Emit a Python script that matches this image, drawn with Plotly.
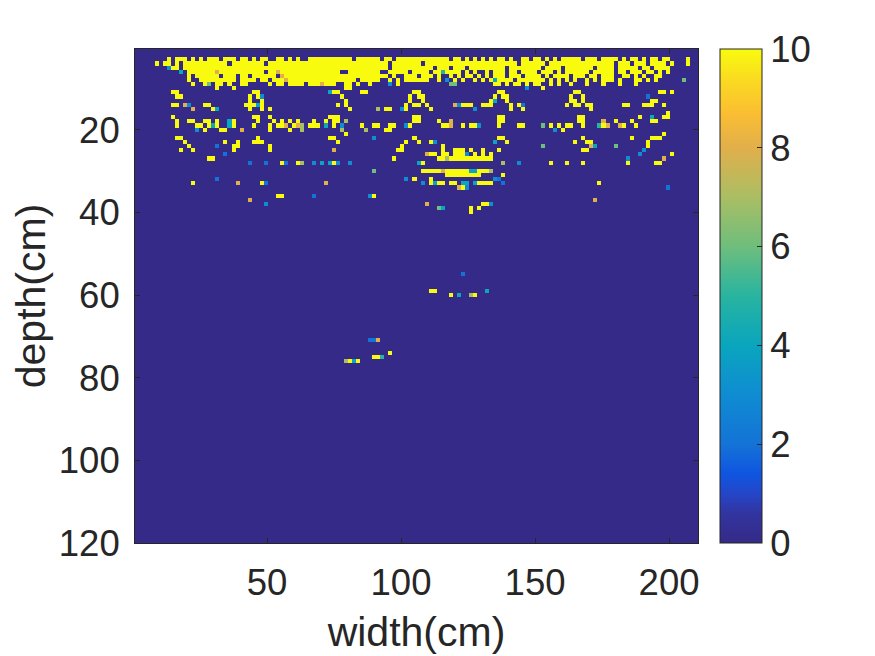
import numpy as np
import plotly.graph_objects as go

# one string per depth, 14 groups of 10 columns: . = 0, digit = value, # = 10
band_depths = [3, 4, 5, 6, 7, 8, 9, 10]
band_rows = [
    "........#. ###.#.#.## #.###.##.# .##..##.#. #..####### ####.##### #.##.##### ########.# #.#.#.#.#. ##.#..##.# #.#.#.#### #.###.#### .#.##.#.## .##....#..",
    ".....#.##. #.######## ###.###### ##.####### ########## ########## ###.###### #.######## ########## #####.#### ##.####### #########. ###.###.## ##.#...#..",
    "........3# #.######## ########## ########## ########## ########## ###.###### ####.###.# ##.####### ##.####### #.####.### ####.####. #####.##.# ###.......",
    ".......... .4.####### 8######### ##.##8#### ########## #..####### #..#####.# ###.##5### #.#.#..#.# ##.##.#### .###.#.### ###.#####. ##.###.##. #.#.......",
    ".......... ...#.##### #.###.##.# #####.8### ########## ########## ###.#..### .###.#..#. #.##.#.#.# ##.###.### #.#.####.# ##.##.###. .##.#.#..# #.........",
    ".......... ...#..#### #####.#### .##.###8## ########## #####.#### #..#.#.### ###..#.3.# .#..#.#.#4 ####.##### ##.#.#.#.# ..#.#.###. #...##.#.# ......6...",
    ".......... ....#..#6. ##.#..##.. ...#.##.## ##.###8### ..##.#..#. ...3.#.... ........66 .........# #.#.##.#.# #..#.#..#. ..#...#... #...#..... ..........",
    ".......... .......... #...#..... .......... .......... ..##...... .......... .......... .......... .......3.. .#........ .......... .......... ..........",
]

# scattered returns below the band: col, col-col or col:value
lower_depths = [11, 12, 13, 14, 15, 16, 17, 18, 19, 20, 21, 22, 23, 24, 25, 26, 27, 28,
                30, 31, 32, 33, 34, 36, 37, 38, 39, 40, 55, 59, 60, 71, 74, 75, 76]
lower_cells = [
    "9-10 29-30 48:4 49-50 56-57 69-70 90-91 109-110 130-131 133",
    "10-11 28 30 31:3 51 68 70-71 89 91-92 108 111 127:2",
    "28 31 52 68 71 88 89:4 92 108-109 111 128 129",
    "9-10 12:8 13:3 17-18 27-28 29 30:4 31 50 52 67 69-70 72 79:8 80:3 81-82 83 86-87 88 93 95 96:2 107 109 110 112-113 121-122 126-128 131",
    "14:8 19 20:4 28 31 33 53 60:7 62-63 66:3 67 73 84:3 93 96 113",
    "132",
    "9 29-30 33 48-50 69-70 90-91 110-111 125 128:4 131-132",
    "10 13-14 17-18 20 23:4 24 30 34 36 38 40 44 47 49-50 52:7 69-70 75 78:8 90-91 110-111 116:8 119 123 128-129",
    "10 15 16 18 19:4 20 23:4 24 29 33 35-36 37:8 39 40:8 41:7 43-45 47:4 49 51:3 56 59-60 63-64 67:3 68 76-77 78:8 81 83-84 85:3 90 95-96 101:6 103 105 107-108 111 115:5 116 117:8 120:8 121 124",
    "15:3 17 21-22 26:8 33 38 41:7 51:7 57:7 62-63 104:3 106",
    "52 131",
    "10-11 30 48-49 59:3 69 90-91 111 123 128-130",
    "12 22 25 29-31 50 67 70 73 74:3 89:4 92 109 112-113 127",
    "13 20:2 24 25 33 66 76 101:6 113:8 114:4 119:6 127",
    "11 14 24 33 49:8 65-66 76 79-81 83 86 90 111-112 126:3",
    "22:2 72:8 73-74 76-77 79-81 82:3 84 86 88 125:3 133",
    "18-19 64 75-76 77:7 78-85 86-88 122:3 131:8",
    "28:2 32:2 36 37:2 40 41:7 44:3 46:4 48:4 49 50:3 53:3 70:4 71 91:7 95:3 103 107 111 122 129-130",
    "59:6 71-75 76:8 77-82 83-84:4 85-87 88:7",
    "77-82 83-85 91",
    "20:2 67:3 69 73 89:3 90:2",
    "14 25:8 31 32:2 47:8 71:3 73 74:4 75-76 78-79 81-82:4 84:4 85-86 87-88 91:2 115",
    "80:8 81 82:3 132:2",
    "35-36 44:2 58:3 59",
    "28:8 114:8",
    "32:3 72:8 86-87 88:3",
    "75:6 76:4 83 85",
    "83",
    "81:2",
    "73-74 87:4",
    "78 80:4 83:7 84",
    "58:2 59:2 60:8",
    "63",
    "59-60 61:5",
    "52:7 53 54:4 55",
]

x_ticks = [50, 100, 150, 200]
y_ticks = [20, 40, 60, 80, 100, 120]
cbar_ticks = [0, 2, 4, 6, 8, 10]

# parula-like map
cmap = [
    [0.0, "#352a87"], [0.06, "#3234a0"], [0.1, "#2446c8"], [0.14, "#0f55e0"],
    [0.2, "#1473d7"], [0.3, "#0f8cd2"], [0.4, "#0aa5be"], [0.5, "#28b4a0"],
    [0.6, "#6ebe7d"], [0.7, "#aabe64"], [0.8, "#e1af4b"], [0.87, "#fabe32"],
    [0.93, "#fad723"], [1.0, "#f9fb0e"],
]

n_cols = 140
n_rows = 120
z = np.zeros((n_rows, n_cols))

for depth, row in zip(band_depths, band_rows):
    row = row.replace(" ", "")
    for c, ch in enumerate(row[:n_cols]):
        if ch == "#":
            z[depth - 1, c] = 10
        elif ch != ".":
            z[depth - 1, c] = int(ch)

for depth, cells in zip(lower_depths, lower_cells):
    for cell in cells.split():
        val = 10
        if ":" in cell:
            cell, v = cell.split(":")
            val = int(v)
        if "-" in cell:
            a, b = cell.split("-")
        else:
            a, b = cell, cell
        z[depth - 1, int(a):int(b) + 1] = val

x = 1.5 * (np.arange(n_cols) + 1)
y = np.arange(n_rows) + 0.9

ink = "#262626"
font_name = "Liberation Sans"
tick_font = dict(family=font_name, size=36.5, color=ink)
title_font = dict(family=font_name, size=41, color=ink)

fig = go.Figure(go.Heatmap(
    x=x, y=y, z=z, zmin=0, zmax=10, colorscale=cmap,
    colorbar=dict(
        x=1.039, xanchor="left", xpad=0, y=0.5, yanchor="middle", ypad=0,
        len=1.0, lenmode="fraction", thickness=42, thicknessmode="pixels",
        tickvals=cbar_ticks, ticks="inside", ticklen=5, tickcolor=ink,
        tickprefix="\u2009", tickfont=tick_font,
        outlinecolor=ink, outlinewidth=1,
    ),
))
fig.update_xaxes(
    range=[0.75, 210.8], tickvals=x_ticks, ticks="inside", ticklen=5, tickcolor=ink,
    showline=True, linecolor=ink, linewidth=1, mirror="ticks", showgrid=False, zeroline=False,
    tickfont=tick_font, ticklabelstandoff=7,
    title=dict(text="width(cm)", font=title_font, standoff=15),
)
fig.update_yaxes(
    range=[120, 0.4], tickvals=y_ticks, ticks="inside", ticklen=5, tickcolor=ink,
    showline=True, linecolor=ink, linewidth=1, mirror="ticks", showgrid=False, zeroline=False,
    tickfont=tick_font, ticklabelstandoff=7,
    title=dict(text="depth(cm)", font=title_font, standoff=12),
)
fig.update_layout(
    width=867, height=648, margin=dict(l=127, r=177, t=41, b=113, autoexpand=False),
    paper_bgcolor="white", plot_bgcolor="#352a87",
)
fig.write_html("out.html")
